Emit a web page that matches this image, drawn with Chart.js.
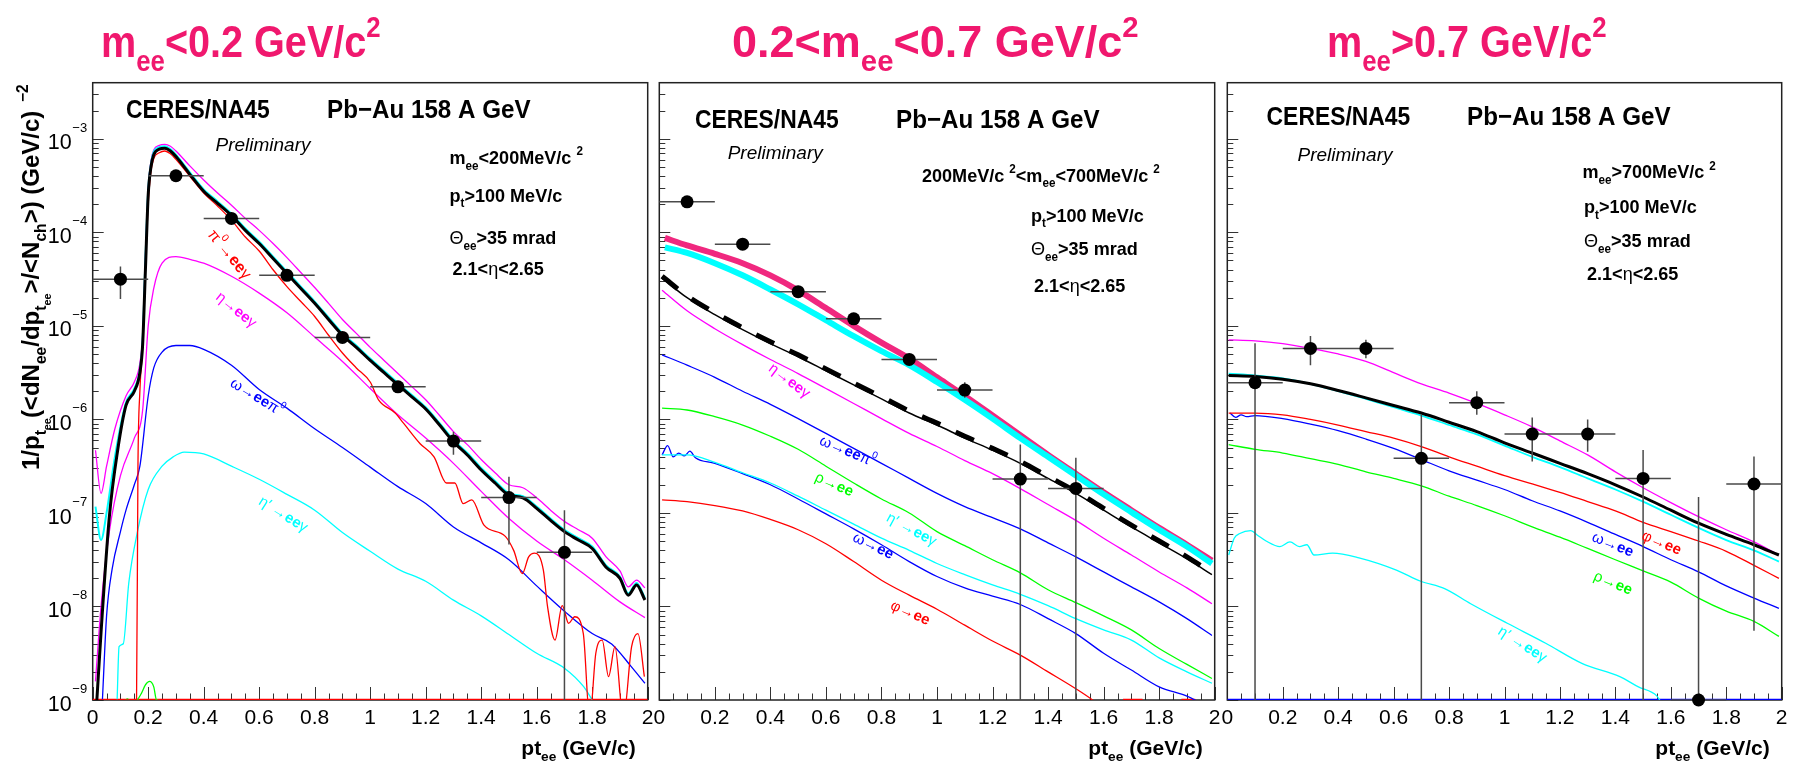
<!DOCTYPE html>
<html>
<head>
<meta charset="utf-8">
<script src="https://cdn.jsdelivr.net/npm/chart.js@4.4.1/dist/chart.umd.min.js"></script>
<style>
  html, body { margin: 0; padding: 0; background: #fff; }
  body { width: 1794px; height: 767px; position: relative; overflow: hidden; }
  canvas { position: absolute; left: 0; top: 0; }
</style>
</head>
<body>
<canvas id="panel1" width="1794" height="767"></canvas>
<canvas id="panel2" width="1794" height="767"></canvas>
<canvas id="panel3" width="1794" height="767"></canvas>
<script>
// ---------- values ----------
// y decades (tick labels of the left panel)
const yDecades = [1e-3, 1e-4, 1e-5, 1e-6, 1e-7, 1e-8, 1e-9];
const yDecadeExp = ['\u22123', '\u22124', '\u22125', '\u22126', '\u22127', '\u22128', '\u22129'];

// panel 1 : m_ee < 0.2
const p1X   = [0.015,0.03,0.06,0.09,0.12,0.15,0.17,0.18,0.19,0.2,0.21,0.22,0.24,0.26,0.28,0.3,
               0.35,0.4,0.45,0.5,0.55,0.6,0.65,0.7,0.75,0.8,0.85,0.9,0.95,1.0,1.05,1.1,1.15,1.2,1.25,1.3,
               1.35,1.4,1.45,1.5,1.55,1.6,1.65,1.7,1.75,1.8,1.85,1.9,1.93,1.96,1.99];
const p1UpX = [0.01,0.03,0.05,0.08,0.12,0.15,0.17,0.18,0.19,0.2,0.21,0.22,0.24,0.26,0.28,0.3,
               0.35,0.4,0.45,0.5,0.55,0.6,0.65,0.7,0.75,0.8,0.85,0.9,0.95,1.0,1.05,1.1,1.15,1.2,1.25,1.3,
               1.35,1.4,1.45,1.5,1.55,1.6,1.65,1.7,1.75,1.8,1.85,1.9,1.93,1.96,1.99];
const p1Total = [1e-9,5.25e-9,9.12e-8,4.68e-7,1.41e-6,2.0e-6,3.16e-6,6.31e-6,3.98e-5,2.51e-4,5.01e-4,6.76e-4,7.76e-4,7.94e-4,7.41e-4,6.46e-4,
               4.17e-4,2.75e-4,2.04e-4,1.51e-4,1.05e-4,7.59e-5,5.25e-5,3.63e-5,2.51e-5,1.74e-5,1.17e-5,7.94e-6,5.89e-6,4.27e-6,3.16e-6,2.34e-6,1.74e-6,1.29e-6,8.71e-7,5.75e-7,
               4.17e-7,2.88e-7,2.09e-7,1.55e-7,1.45e-7,1.12e-7,8.32e-8,6.31e-8,5.13e-8,4.17e-8,2.63e-8,2.0e-8,1.32e-8,1.70e-8,1.17e-8];
const p1TotalCyan = [1.17e-7,5.13e-8,1.0e-7,3.98e-7,1.51e-6,2.14e-6,3.39e-6,7.08e-6,5.01e-5,2.82e-4,5.37e-4,7.24e-4,8.13e-4,8.32e-4,7.76e-4,6.76e-4,
               4.37e-4,2.88e-4,2.14e-4,1.58e-4,1.10e-4,7.94e-5,5.50e-5,3.80e-5,2.63e-5,1.82e-5,1.23e-5,8.32e-6,6.17e-6,4.47e-6,3.31e-6,2.45e-6,1.82e-6,1.35e-6,9.12e-7,6.03e-7,
               4.37e-7,3.02e-7,2.19e-7,1.62e-7,1.51e-7,1.17e-7,8.71e-8,6.61e-8,5.37e-8,4.37e-8,2.75e-8,2.09e-8,1.38e-8,1.78e-8,1.23e-8];
const p1Upper = [4.68e-7,1.62e-7,3.16e-7,7.94e-7,1.78e-6,2.51e-6,3.98e-6,7.94e-6,5.62e-5,3.02e-4,5.75e-4,7.59e-4,8.51e-4,8.71e-4,8.32e-4,7.41e-4,
               5.13e-4,3.63e-4,2.63e-4,1.95e-4,1.41e-4,1.05e-4,7.59e-5,5.37e-5,3.72e-5,2.57e-5,1.74e-5,1.17e-5,8.32e-6,5.89e-6,4.27e-6,3.09e-6,2.24e-6,1.62e-6,1.10e-6,7.41e-7,
               5.37e-7,3.72e-7,2.69e-7,2.0e-7,1.86e-7,1.45e-7,1.07e-7,8.13e-8,6.61e-8,5.37e-8,3.39e-8,2.40e-8,1.62e-8,1.91e-8,1.58e-8];
const p1PiX = [0,0.158,0.163,0.17,0.18,0.19,0.2,0.21,0.22,0.24,0.26,0.28,0.3,0.35,0.4,0.45,0.5,0.55,0.6,0.65,
               0.7,0.75,0.8,0.85,0.9,0.95,1.0,1.03,1.09,1.12,1.18,1.23,1.275,1.305,1.335,1.366,1.41,1.487,1.517,1.548,
               1.571,1.593,1.624,1.639,1.666,1.692,1.715,1.737,1.768,1.791,1.813,1.836,1.859,1.882,1.912,1.942,1.965,1.988];
const p1Pi  = [1e-9,1e-9,3e-7,2e-6,6e-6,4e-5,2.0e-4,4.47e-4,6.17e-4,7.08e-4,7.41e-4,6.92e-4,6.03e-4,3.98e-4,2.63e-4,1.91e-4,1.35e-4,8.91e-5,6.31e-5,3.98e-5,
               2.63e-5,1.82e-5,1.26e-5,7.94e-6,5.13e-6,3.55e-6,2.51e-6,1.62e-6,1.17e-6,9.12e-7,5.5e-7,3.98e-7,2.09e-7,2.09e-7,1.26e-7,1.38e-7,7.41e-8,5.62e-8,3.98e-8,2.24e-8,
               3.39e-8,3.72e-8,2.45e-8,1.0e-8,4.37e-9,1.02e-8,6.61e-9,7.76e-9,5.13e-9,6.3e-10,3.16e-9,4.37e-9,1.78e-9,3.72e-9,6.3e-10,3.72e-9,5.13e-9,1.78e-9];
const p1EtaX = [0.01,0.03,0.06,0.1,0.15,0.18,0.2,0.22,0.25,0.3,0.35,0.4,0.5,0.6,0.7,0.8,0.9,1.0,1.1,1.2,1.3,1.4,1.5,1.6,1.7,1.8,1.9,1.99];
const p1Eta  = [1.58e-9,1e-8,6.31e-8,2.51e-7,6.31e-7,1.26e-6,1e-5,2.51e-5,4.68e-5,5.5e-5,5.13e-5,4.68e-5,3.39e-5,2.24e-5,1.38e-5,7.59e-6,4.17e-6,2.14e-6,1.12e-6,6.31e-7,3.39e-7,1.70e-7,8.71e-8,5.01e-8,3.16e-8,1.91e-8,1.12e-8,7.59e-9];
const p1OmPiX = [0.035,0.05,0.07,0.1,0.12,0.15,0.17,0.2,0.22,0.25,0.3,0.35,0.4,0.5,0.6,0.7,0.8,0.9,1.0,1.1,1.2,1.3,1.4,1.5,1.6,1.7,1.8,1.87,1.94,1.99];
const p1OmPi  = [1e-9,7.94e-9,2.51e-8,6.31e-8,1.07e-7,2.0e-7,3.16e-7,1.78e-6,3.55e-6,5.25e-6,6.17e-6,6.17e-6,5.62e-6,3.80e-6,2.09e-6,1.32e-6,7.94e-7,5.01e-7,3.09e-7,1.91e-7,1.26e-7,7.08e-8,4.79e-8,3.16e-8,1.66e-8,8.91e-9,5.13e-9,3.98e-9,2.29e-9,1.51e-9];
const p1EtaPX = [0.088,0.095,0.11,0.13,0.16,0.2,0.25,0.29,0.33,0.4,0.5,0.6,0.7,0.8,0.9,1.0,1.1,1.2,1.3,1.4,1.5,1.6,1.7,1.77,1.8];
const p1EtaP  = [1e-9,3.72e-9,3.98e-9,1.78e-8,6.03e-8,1.78e-7,3.16e-7,3.98e-7,4.47e-7,4.27e-7,3.16e-7,2.29e-7,1.58e-7,1.07e-7,6.17e-8,3.89e-8,2.51e-8,1.86e-8,1.17e-8,7.94e-9,5.01e-9,3.16e-9,2.19e-9,1.38e-9,1e-9];
const p1RhoX = [0.11,0.125,0.14,0.16,0.175,0.19,0.205,0.22,0.23,0.25];
const p1Rho  = [9.5e-10,1.03e-9,9.5e-10,1.0e-9,1.17e-9,1.45e-9,1.58e-9,1.38e-9,1.0e-9,9.8e-10];
const p1FloorX = [0, 2];
const p1Floor  = [1e-9, 1e-9];
const p1PtX  = [0.1,0.3,0.5,0.7,0.9,1.1,1.3,1.5,1.7];
const p1PtY  = [3.16e-5,4.03e-4,1.41e-4,3.47e-5,7.53e-6,2.23e-6,5.87e-7,1.46e-7,3.79e-8];
const p1PtHi = [4.3e-5,4.3e-4,1.5e-4,3.7e-5,8.1e-6,2.4e-6,7.4e-7,2.44e-7,1.07e-7];
const p1PtLo = [1.94e-5,3.8e-4,1.33e-4,3.27e-5,7.0e-6,2.07e-6,4.2e-7,4.6e-8,0];

// panel 2 : 0.2 < m_ee < 0.7
const p2X      = [0.01,0.1,0.2,0.3,0.4,0.5,0.6,0.7,0.8,0.9,1.0,1.1,1.2,1.3,1.4,1.5,1.6,1.7,1.8,1.9,1.99];
const p2ThickX = [0.02,0.1,0.2,0.3,0.4,0.5,0.6,0.7,0.8,0.9,1.0,1.1,1.2,1.3,1.4,1.5,1.6,1.7,1.8,1.9,1.99];
const p2Pink   = [8.71e-5,7.24e-5,5.89e-5,4.68e-5,3.47e-5,2.40e-5,1.55e-5,1.0e-5,6.61e-6,4.47e-6,2.82e-6,1.78e-6,1.10e-6,6.76e-7,4.17e-7,2.63e-7,1.66e-7,1.07e-7,6.92e-8,4.57e-8,3.09e-8];
const p2Cyan   = [6.92e-5,6.03e-5,4.68e-5,3.47e-5,2.45e-5,1.70e-5,1.15e-5,7.76e-6,5.37e-6,3.80e-6,2.51e-6,1.62e-6,1.02e-6,6.31e-7,3.98e-7,2.51e-7,1.58e-7,1.02e-7,6.61e-8,4.37e-8,2.88e-8];
const p2Total  = [3.24e-5,2.0e-5,1.32e-5,9.12e-6,6.46e-6,4.68e-6,3.31e-6,2.34e-6,1.66e-6,1.17e-6,8.71e-7,6.31e-7,4.68e-7,3.39e-7,2.34e-7,1.62e-7,1.07e-7,7.08e-8,4.79e-8,3.24e-8,2.19e-8];
const p2TotalDash = [3.39e-5,2.09e-5,1.38e-5,9.55e-6,6.76e-6,4.9e-6,3.47e-6,2.45e-6,1.74e-6,1.23e-6,9.12e-7,6.61e-7,4.9e-7,3.55e-7,2.45e-7,1.7e-7,1.12e-7,7.41e-8,5.01e-8,3.39e-8,2.29e-8];
const p2Eta    = [2.40e-5,1.45e-5,9.33e-6,6.31e-6,4.37e-6,3.09e-6,2.14e-6,1.48e-6,1.02e-6,7.08e-7,5.13e-7,3.63e-7,2.63e-7,1.82e-7,1.23e-7,8.32e-8,5.37e-8,3.55e-8,2.34e-8,1.58e-8,1.07e-8];
const p2OmPi   = [4.9e-6,3.8e-6,2.82e-6,2.0e-6,1.45e-6,1.02e-6,7.08e-7,4.9e-7,3.39e-7,2.34e-7,1.62e-7,1.17e-7,8.91e-8,6.76e-8,4.79e-8,3.39e-8,2.34e-8,1.62e-8,1.12e-8,7.41e-9,4.9e-9];
const p2Rho    = [1.32e-6,1.26e-6,1.07e-6,8.71e-7,6.61e-7,4.79e-7,3.16e-7,2.09e-7,1.41e-7,1.0e-7,6.31e-8,4.47e-8,3.16e-8,2.29e-8,1.51e-8,1.10e-8,7.94e-9,5.62e-9,3.55e-9,2.40e-9,1.70e-9];
const p2EtaP   = [4.17e-7,4.17e-7,3.47e-7,2.69e-7,2.09e-7,1.51e-7,1.07e-7,7.59e-8,5.37e-8,3.98e-8,2.88e-8,2.19e-8,1.70e-8,1.35e-8,1.02e-8,7.41e-9,5.62e-9,4.37e-9,2.82e-9,2.0e-9,1.51e-9];
const p2OmX    = [0.01,0.03,0.05,0.07,0.09,0.11,0.13,0.2,0.3,0.4,0.5,0.6,0.7,0.8,0.9,1.0,1.1,1.2,1.3,1.4,1.5,1.6,1.7,1.8,1.9,1.96];
const p2Om     = [4.17e-7,5.25e-7,3.98e-7,4.37e-7,4.07e-7,4.57e-7,3.89e-7,3.39e-7,2.63e-7,2.0e-7,1.41e-7,9.77e-8,6.76e-8,4.57e-8,3.02e-8,2.09e-8,1.58e-8,1.29e-8,1.05e-8,7.41e-9,5.13e-9,3.16e-9,2.09e-9,1.38e-9,1.10e-9,8.91e-10];
const p2PhiX   = [0.01,0.1,0.2,0.3,0.4,0.5,0.6,0.7,0.8,0.9,1.0,1.1,1.2,1.3,1.4,1.5,1.56,1.6];
const p2Phi    = [1.38e-7,1.32e-7,1.20e-7,1.05e-7,8.51e-8,6.61e-8,4.68e-8,3.02e-8,1.91e-8,1.32e-8,9.33e-9,6.31e-9,4.27e-9,3.02e-9,2.0e-9,1.32e-9,1.0e-9,7.94e-10];
const p2PhiFloorX = [1.67,1.74,1.8,1.88,1.93];
const p2PhiFloor  = [1e-9,1e-9,null,1e-9,1e-9];
const p2PtX  = [0.1,0.3,0.5,0.7,0.9,1.1,1.3,1.5];
const p2PtY  = [2.12e-4,7.48e-5,2.32e-5,1.19e-5,4.38e-6,2.06e-6,2.3e-7,1.83e-7];
const p2PtHi = [2.2e-4,7.8e-5,2.42e-5,1.25e-5,4.8e-6,2.5e-6,5.4e-7,3.9e-7];
const p2PtLo = [2.04e-4,7.2e-5,2.22e-5,1.13e-5,3.95e-6,1.7e-6,0,0];

// panel 3 : m_ee > 0.7
const p3X      = [0.005,0.1,0.2,0.3,0.4,0.5,0.6,0.7,0.8,0.9,1.0,1.1,1.2,1.3,1.4,1.5,1.6,1.7,1.8,1.9,1.99];
const p3Upper  = [7.08e-6,6.92e-6,6.46e-6,5.75e-6,5.01e-6,4.17e-6,3.16e-6,2.40e-6,1.91e-6,1.48e-6,1.12e-6,8.32e-7,5.89e-7,4.17e-7,2.75e-7,1.86e-7,1.29e-7,9.12e-8,6.61e-8,4.9e-8,3.55e-8];
const p3Total  = [2.95e-6,2.88e-6,2.69e-6,2.40e-6,2.04e-6,1.70e-6,1.41e-6,1.17e-6,9.33e-7,7.41e-7,5.62e-7,4.37e-7,3.39e-7,2.63e-7,2.0e-7,1.48e-7,1.07e-7,7.76e-8,5.89e-8,4.57e-8,3.55e-8];
const p3TotalCyan = [3.09e-6,2.95e-6,2.75e-6,2.40e-6,2.0e-6,1.66e-6,1.35e-6,1.10e-6,8.71e-7,6.92e-7,5.25e-7,3.98e-7,3.09e-7,2.34e-7,1.78e-7,1.32e-7,9.55e-8,6.92e-8,5.13e-8,3.98e-8,3.02e-8];
const p3Phi    = [1.17e-6,1.17e-6,1.12e-6,1.0e-6,8.71e-7,7.41e-7,6.31e-7,5.13e-7,3.98e-7,3.16e-7,2.51e-7,2.04e-7,1.66e-7,1.32e-7,1.05e-7,7.94e-8,6.31e-8,5.01e-8,3.89e-8,2.75e-8,2.0e-8];
const p3Rho    = [5.37e-7,4.79e-7,4.37e-7,3.80e-7,3.31e-7,2.75e-7,2.34e-7,1.95e-7,1.51e-7,1.20e-7,9.33e-8,7.08e-8,5.5e-8,4.17e-8,3.16e-8,2.40e-8,1.82e-8,1.23e-8,8.91e-9,6.92e-9,4.79e-9];
const p3OmX    = [0.01,0.03,0.05,0.07,0.1,0.2,0.3,0.4,0.5,0.6,0.7,0.8,0.9,1.0,1.1,1.2,1.3,1.4,1.5,1.6,1.7,1.8,1.9,1.99];
const p3Om     = [1.17e-6,1.05e-6,1.12e-6,1.07e-6,1.10e-6,1.02e-6,8.91e-7,7.59e-7,6.17e-7,4.9e-7,3.72e-7,2.82e-7,2.24e-7,1.78e-7,1.35e-7,1.05e-7,7.94e-8,5.89e-8,4.37e-8,3.16e-8,2.34e-8,1.66e-8,1.23e-8,9.55e-9];
const p3EtaPX  = [0.005,0.025,0.045,0.085,0.11,0.14,0.19,0.226,0.26,0.287,0.313,0.38,0.475,0.61,0.698,0.784,0.878,1.01,1.147,1.281,1.416,1.483,1.55,1.57];
const p3EtaP   = [3.55e-8,5.37e-8,6.03e-8,6.46e-8,5.75e-8,5.01e-8,4.37e-8,4.9e-8,4.37e-8,4.57e-8,3.55e-8,3.72e-8,3.31e-8,2.45e-8,1.86e-8,1.55e-8,1.07e-8,6.61e-9,4.07e-9,2.45e-9,1.78e-9,1.38e-9,1.10e-9,8.91e-10];
const p3FloorX = [0, 2];
const p3Floor  = [1e-9, 1e-9];
const p3PtX  = [0.1,0.3,0.5,0.7,0.9,1.1,1.3,1.5,1.7,1.9];
const p3PtY  = [2.47e-6,5.74e-6,5.74e-6,3.84e-7,1.51e-6,6.97e-7,6.97e-7,2.34e-7,1e-9,2.04e-7];
const p3PtHi = [6.5e-6,7.8e-6,7.1e-6,1.13e-6,2.0e-6,1.05e-6,1.0e-6,4.7e-7,1.48e-7,4.0e-7];
const p3PtLo = [0,3.8e-6,4.5e-6,0,1.12e-6,3.55e-7,4.5e-7,0,0,5.5e-9];

const ptHalfWidth = 0.1;

// ---------- drawing helpers ----------
const FF = '"Liberation Sans", Arial, Helvetica, sans-serif';
const RED = '#ff0000', MAG = '#ff00ff', BLUE = '#0000ff', CYAN = '#00ffff', GREEN = '#00ff00';
const PINK = '#f0287f', TITLE = '#f0186e';

function xy(xs, ys) {
  return xs.map(function (x, i) { return { x: x, y: ys[i] }; });
}
function curve(xs, ys, color, width, extra) {
  return Object.assign({
    data: xy(xs, ys), borderColor: color, borderWidth: width,
    pointRadius: 0, fill: false, cubicInterpolationMode: 'monotone', spanGaps: false
  }, extra || {});
}
function points(xs, ys) {
  return { data: xy(xs, ys), showLine: false, pointRadius: 6.5, pointBackgroundColor: '#000',
    pointBorderWidth: 0, borderColor: '#000', clip: false };
}
function fontOf(w, s) {
  return (w === 'b' ? 'bold ' : w === 'i' ? 'italic ' : '') + s.toFixed(1) + 'px ' + FF;
}
// parts : [text, weight, position]
function drawRich(ctx, x, y, parts, size, opts) {
  opts = opts || {};
  ctx.save();
  ctx.translate(x, y);
  if (opts.rot) ctx.rotate(opts.rot);
  if (opts.sx) ctx.scale(opts.sx, 1);
  ctx.fillStyle = opts.color || '#000';
  ctx.textBaseline = opts.baseline || 'alphabetic';
  ctx.textAlign = 'left';
  const items = parts.map(function (p) {
    let s = size, dy = 0;
    if (p[2] === 'sub') { s = size * 0.65; dy = size * 0.3; }
    else if (p[2] === 'sup') { s = size * 0.65; dy = -size * 0.45; }
    else if (p[2] === 'sub2') { s = size * 0.45; dy = size * 0.5; }
    ctx.font = fontOf(p[1], s);
    return { t: p[0], f: fontOf(p[1], s), dy: dy, w: ctx.measureText(p[0]).width };
  });
  const total = items.reduce(function (a, b) { return a + b.w; }, 0);
  let cx = opts.align === 'right' ? -total : opts.align === 'center' ? -total / 2 : 0;
  items.forEach(function (it) {
    ctx.font = it.f;
    ctx.fillText(it.t, cx, it.dy);
    cx += it.w;
  });
  ctx.restore();
}

function drawFrame(chart) {
  const ctx = chart.ctx, a = chart.chartArea, xs = chart.scales.x, ys = chart.scales.y;
  ctx.save();
  ctx.strokeStyle = '#333';
  ctx.lineWidth = 1;
  ctx.beginPath();
  for (let k = 0; k <= 40; k++) {
    const px = Math.round(xs.getPixelForValue(k * 0.05)) + 0.5;
    const len = k % 4 === 0 ? 13 : 6.5;
    ctx.moveTo(px, a.bottom); ctx.lineTo(px, a.bottom - len);
  }
  for (let d = -9; d <= -3; d++) {
    for (let m = 1; m <= 9; m++) {
      const v = m * Math.pow(10, d);
      if (v < ys.min * 0.999 || v > ys.max) continue;
      const py = Math.round(ys.getPixelForValue(v)) + 0.5;
      ctx.moveTo(a.left, py); ctx.lineTo(a.left + (m === 1 ? 11 : 6), py);
    }
  }
  ctx.stroke();
  ctx.lineWidth = 1.5;
  ctx.strokeStyle = '#222';
  ctx.strokeRect(a.left, a.top, a.right - a.left, a.bottom - a.top);
  ctx.restore();
}

function drawErrors(chart, e) {
  const ctx = chart.ctx, a = chart.chartArea, xs = chart.scales.x, ys = chart.scales.y;
  ctx.save();
  ctx.strokeStyle = '#4a4a4a';
  ctx.lineWidth = 1.5;
  ctx.beginPath();
  e.x.forEach(function (x, i) {
    const px = xs.getPixelForValue(x), py = ys.getPixelForValue(e.y[i]);
    const x0 = xs.getPixelForValue(x - ptHalfWidth), x1 = Math.min(xs.getPixelForValue(x + ptHalfWidth), a.right);
    const yHi = Math.max(ys.getPixelForValue(e.hi[i]), a.top);
    const yLo = e.lo[i] > 0 ? Math.min(ys.getPixelForValue(e.lo[i]), a.bottom) : a.bottom;
    ctx.moveTo(x0, py); ctx.lineTo(x1, py);
    ctx.moveTo(px, yHi); ctx.lineTo(px, yLo);
  });
  ctx.stroke();
  ctx.restore();
}

const PI0  = [['\u03c0', 'n'], ['0', 'n', 'sup'], ['\u2192', 'n'], ['ee', 'b'], ['\u03b3', 'n']];
const ETA  = [['\u03b7', 'n'], ['\u2192', 'n'], ['ee', 'b'], ['\u03b3', 'n']];
const OMPI = [['\u03c9', 'n'], ['\u2192', 'n'], ['ee', 'b'], ['\u03c0', 'n'], ['0', 'n', 'sup']];
const ETAP = [['\u03b7\u2032 ', 'n'], ['\u2192', 'n'], ['ee', 'b'], ['\u03b3', 'n']];
const OMEE = [['\u03c9', 'n'], ['\u2192', 'n'], ['ee', 'b']];
const RHO  = [['\u03c1', 'n'], ['\u2192', 'n'], ['ee', 'b']];
const PHI  = [['\u03c6', 'n'], ['\u2192', 'n'], ['ee', 'b']];

function curveLabels(chart, list) {
  const xs = chart.scales.x, ys = chart.scales.y;
  list.forEach(function (l) {
    drawRich(chart.ctx, xs.getPixelForValue(l.x), ys.getPixelForValue(l.y), l.parts, l.size || 15,
      { rot: l.a * Math.PI / 180, color: l.c, baseline: 'middle' });
  });
}

function headerTexts(ctx, t) {
  drawRich(ctx, t.cx, t.cy, [['CERES/NA45', 'b']], 26, { sx: 0.88 });
  drawRich(ctx, t.px, t.cy, [['Pb\u2212Au 158 A GeV', 'b']], 26, { sx: 0.93 });
  drawRich(ctx, t.prx, t.pry, [['Preliminary', 'i']], 19);
  drawRich(ctx, t.mx, t.my, t.mass, 19, { sx: 0.95 });
  drawRich(ctx, t.kx, t.ky[0], [['p', 'b'], ['t', 'b', 'sub'], ['>100 MeV/c', 'b']], 19, { sx: 0.95 });
  drawRich(ctx, t.kx, t.ky[1], [['\u0398', 'n'], ['ee', 'b', 'sub'], ['>35 mrad', 'b']], 19, { sx: 0.95 });
  drawRich(ctx, t.kx + 3, t.ky[2], [['2.1<', 'b'], ['\u03b7', 'n'], ['<2.65', 'b']], 19, { sx: 0.95 });
}

function xTitle(chart) {
  drawRich(chart.ctx, chart.chartArea.right - 12, 755, [['pt', 'b'], ['ee', 'b', 'sub'], [' (GeV/c)', 'b']], 21, { align: 'right' });
}

function makePanel(id, left, right, datasets, err, deco) {
  const plug = {
    id: 'deco_' + id,
    beforeDatasetsDraw: function (chart) { drawFrame(chart); },
    beforeDatasetDraw: function (chart, args) { if (args.index === 0) drawErrors(chart, err); },
    afterDraw: function (chart) { deco(chart); xTitle(chart); }
  };
  return new Chart(document.getElementById(id), {
    type: 'line',
    data: { datasets: datasets },
    options: {
      responsive: false, animation: false, devicePixelRatio: 1,
      layout: { padding: { left: left, right: 1794 - right, top: 82.7, bottom: 17 } },
      plugins: { legend: { display: false }, tooltip: { enabled: false } },
      scales: {
        x: {
          type: 'linear', min: 0, max: 2,
          afterFit: function (s) { s.height = 50; },
          grid: { display: false, drawTicks: false }, border: { display: false },
          ticks: {
            stepSize: 0.2, padding: 6, color: '#000', maxRotation: 0, autoSkip: false,
            font: { family: FF, size: 21 },
            callback: function (v) { return String(+v.toFixed(1)); }
          }
        },
        y: { type: 'logarithmic', min: 1e-9, max: 3.98e-3, display: false }
      }
    },
    plugins: [plug]
  });
}

// ---------- panel 1 ----------
makePanel('panel1', 92.7, 647.7, [
  points(p1PtX, p1PtY),
  curve(p1X, p1Total, '#000', 3),
  curve(p1UpX, p1TotalCyan, CYAN, 2),
  curve(p1UpX, p1Upper, MAG, 1.3),
  curve(p1PiX, p1Pi, RED, 1.3),
  curve(p1EtaX, p1Eta, MAG, 1.3),
  curve(p1OmPiX, p1OmPi, BLUE, 1.3),
  curve(p1EtaPX, p1EtaP, CYAN, 1.3),
  curve(p1RhoX, p1Rho, GREEN, 1.3),
  curve(p1FloorX, p1Floor, RED, 2.5)
], { x: p1PtX, y: p1PtY, hi: p1PtHi, lo: p1PtLo }, function (chart) {
  const ctx = chart.ctx, ys = chart.scales.y;
  drawRich(ctx, 101, 57, [['m', 'b'], ['ee', 'b', 'sub'], ['<0.2 GeV/c', 'b'], ['2', 'b', 'sup']], 45, { color: TITLE, sx: 0.88 });
  headerTexts(ctx, { cx: 126, cy: 118, px: 327, prx: 215.5, pry: 151, mx: 449.5, my: 164,
    mass: [['m', 'b'], ['ee', 'b', 'sub'], ['<200MeV/c ', 'b'], ['2', 'b', 'sup']], kx: 449.5, ky: [201.7, 244, 275] });
  curveLabels(chart, [
    { x: 0.4245, y: 1.01e-4, a: 50.7, c: RED, parts: PI0, size: 16 },
    { x: 0.45, y: 2.13e-5, a: 39, c: MAG, parts: ETA },
    { x: 0.5, y: 2.52e-6, a: 31.4, c: BLUE, parts: OMPI },
    { x: 0.603, y: 1.37e-7, a: 32, c: CYAN, parts: ETAP }
  ]);
  // y tick labels
  ctx.save();
  ctx.fillStyle = '#000';
  yDecades.forEach(function (v, i) {
    const py = ys.getPixelForValue(v);
    ctx.textAlign = 'right';
    ctx.font = fontOf('n', 21.5);
    ctx.fillText('10', 71.7, py + 10.6);
    ctx.textAlign = 'left';
    ctx.font = fontOf('n', 13);
    ctx.fillText(yDecadeExp[i], 72.3, py - 7);
  });
  ctx.restore();
  // y title
  drawRich(ctx, 39, 470, [['1/p', 'b'], ['t', 'b', 'sub'], ['ee', 'b', 'sub2'], ['(<dN', 'b'], ['ee', 'b', 'sub'],
    ['/dp', 'b'], ['t', 'b', 'sub'], ['ee', 'b', 'sub2'], ['>/<N', 'b'], ['ch', 'b', 'sub'], ['>) (GeV/c)', 'b'],
    ['  \u22122', 'b', 'sup']], 24, { rot: -Math.PI / 2 });
});

// ---------- panel 2 ----------
makePanel('panel2', 659.3, 1214.7, [
  points(p2PtX, p2PtY),
  curve(p2X, p2TotalDash, '#000', 5, { borderDash: [20, 17] }),
  curve(p2X, p2Total, '#000', 1.5),
  curve(p2ThickX, p2Cyan, CYAN, 6),
  curve(p2ThickX, p2Pink, PINK, 6),
  curve(p2X, p2Eta, MAG, 1.3),
  curve(p2X, p2OmPi, BLUE, 1.3),
  curve(p2X, p2Rho, GREEN, 1.3),
  curve(p2X, p2EtaP, CYAN, 1.3),
  curve(p2OmX, p2Om, BLUE, 1.3),
  curve(p2PhiX, p2Phi, RED, 1.3),
  curve(p2PhiFloorX, p2PhiFloor, RED, 2.5)
], { x: p2PtX, y: p2PtY, hi: p2PtHi, lo: p2PtLo }, function (chart) {
  const ctx = chart.ctx;
  drawRich(ctx, 732, 57, [['0.2<m', 'b'], ['ee', 'b', 'sub'], ['<0.7 GeV/c', 'b'], ['2', 'b', 'sup']], 45, { color: TITLE, sx: 1.0 });
  headerTexts(ctx, { cx: 695, cy: 128.3, px: 896, prx: 727.7, pry: 159, mx: 922, my: 181.7,
    mass: [['200MeV/c ', 'b'], ['2', 'b', 'sup'], ['<m', 'b'], ['ee', 'b', 'sub'], ['<700MeV/c ', 'b'], ['2', 'b', 'sup']],
    kx: 1031, ky: [221.7, 255, 291.7] });
  curveLabels(chart, [
    { x: 0.3994, y: 3.66e-6, a: 36.9, c: MAG, parts: ETA },
    { x: 0.5794, y: 6.01e-7, a: 22.7, c: BLUE, parts: OMPI },
    { x: 0.5632, y: 2.44e-7, a: 23.7, c: GREEN, parts: RHO },
    { x: 0.8217, y: 9.1e-8, a: 28.4, c: CYAN, parts: ETAP },
    { x: 0.6993, y: 5.57e-8, a: 25.9, c: BLUE, parts: OMEE },
    { x: 0.835, y: 1.04e-8, a: 23.6, c: RED, parts: PHI }
  ]);
});

// ---------- panel 3 ----------
makePanel('panel3', 1227.3, 1781.7, [
  points(p3PtX, p3PtY),
  curve(p3X, p3Total, '#000', 3),
  curve(p3X, p3TotalCyan, CYAN, 1.8),
  curve(p3X, p3Upper, MAG, 1.3),
  curve(p3X, p3Phi, RED, 1.3),
  curve(p3OmX, p3Om, BLUE, 1.3),
  curve(p3X, p3Rho, GREEN, 1.3),
  curve(p3EtaPX, p3EtaP, CYAN, 1.3),
  curve(p3FloorX, p3Floor, BLUE, 2.5)
], { x: p3PtX, y: p3PtY, hi: p3PtHi, lo: p3PtLo }, function (chart) {
  const ctx = chart.ctx;
  drawRich(ctx, 1327, 57, [['m', 'b'], ['ee', 'b', 'sub'], ['>0.7 GeV/c', 'b'], ['2', 'b', 'sup']], 45, { color: TITLE, sx: 0.88 });
  headerTexts(ctx, { cx: 1266.6, cy: 125, px: 1467, prx: 1297.5, pry: 161, mx: 1582.4, my: 178.3,
    mass: [['m', 'b'], ['ee', 'b', 'sub'], ['>700MeV/c ', 'b'], ['2', 'b', 'sup']],
    kx: 1584, ky: [213.3, 247.3, 280] });
  curveLabels(chart, [
    { x: 1.3175, y: 5.57e-8, a: 22, c: BLUE, parts: OMEE },
    { x: 1.4971, y: 5.8e-8, a: 22.8, c: RED, parts: PHI },
    { x: 1.3239, y: 2.13e-8, a: 22.4, c: GREEN, parts: RHO },
    { x: 0.9813, y: 5.6e-9, a: 32.4, c: CYAN, parts: ETAP }
  ]);
});
</script>
</body>
</html>
